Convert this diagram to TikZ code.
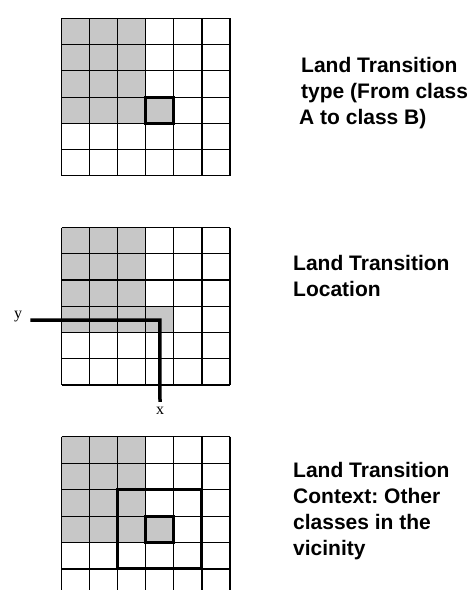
\documentclass[tikz,border=0pt]{standalone}
\usepackage{fontspec}
\setmainfont{Liberation Sans}
\newfontfamily\axisfont{Liberation Serif}
\frenchspacing
\tikzset{
  cellfill/.style={fill=black!22},
  gridline/.style={draw=black, line width=1.1pt},
  markcell/.style={draw=black, line width=3pt},
  axisline/.style={draw=black, line width=3.5pt},
  caption/.style={anchor=base west, inner sep=0pt, font=\fontsize{21}{26}\selectfont\bfseries},
  axislabel/.style={inner sep=0pt, font=\fontsize{16}{18}\selectfont\axisfont}
}
\newcommand\landgrid{%
  \fill[cellfill] (0,0) rectangle (3,4);
  \fill[cellfill] (3,3) rectangle (4,4);
  \foreach \i in {0,...,6} \draw[gridline] (\i,0) -- (\i,6);
  \foreach \j in {0,...,6} \draw[gridline] (0,\j) -- (6,\j);
}
\begin{document}
\begin{tikzpicture}[x=1pt,y=-1pt]
\useasboundingbox (0,0) rectangle (475,590);
\clip (0,0) rectangle (475,590);
\fill[white] (0,0) rectangle (475,590);

% Grid 1
\begin{scope}[shift={(61.7,18.3)}, x=28.05pt, y=-26.25pt]
  \landgrid
  \draw[markcell] (3,3) rectangle (4,4);
\end{scope}

% Grid 2
\begin{scope}[shift={(61.7,227.5)}, x=28.05pt, y=-26.25pt]
  \landgrid
  \coordinate (corner) at (3.5,3.5);
\end{scope}
\coordinate (yend) at (32,320);
\coordinate (xend) at (160,400);
\draw[axisline, line cap=rect] (yend) -- (corner |- yend) -- (xend);
\node[axislabel] (ylab) at (18,317) {y};
\node[axislabel] (xlab) at (160,411) {x};

% Grid 3
\begin{scope}[shift={(61.7,436.7)}, x=28.05pt, y=-26.45pt]
  \landgrid
  \draw[markcell] (2,2) rectangle (5,5);
  \draw[markcell] (3,3) rectangle (4,4);
\end{scope}

% Captions
\node[caption] (c1a) at (301,72) {Land Transition};
\node[caption] (c1b) at (301,98) {type (From class};
\node[caption] (c1c) at (299,124) {A to class B)};

\node[caption] (c2a) at (293,270) {Land Transition};
\node[caption] (c2b) at (293,296) {Location};

\node[caption] (c3a) at (293,477) {Land Transition};
\node[caption] (c3b) at (293,503) {Context: Other};
\node[caption] (c3c) at (293,529) {classes in the};
\node[caption] (c3d) at (293,555) {vicinity};
\end{tikzpicture}
\end{document}
